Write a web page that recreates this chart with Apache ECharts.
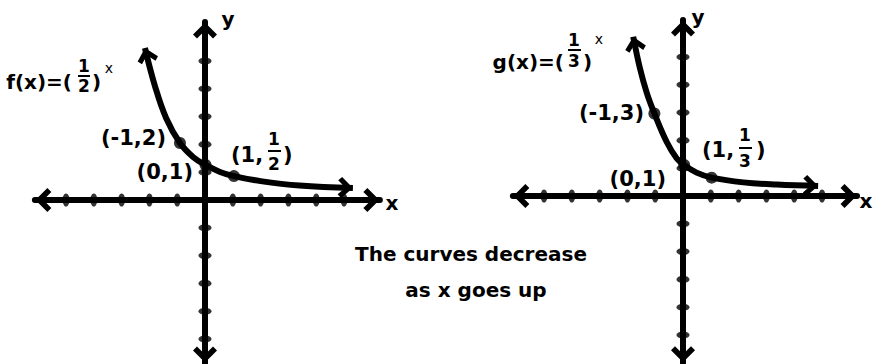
<!DOCTYPE html>
<html><head><meta charset="utf-8">
<script src="https://cdn.jsdelivr.net/npm/echarts@6/dist/echarts.min.js"></script>
<style>html,body{margin:0;padding:0;background:#fff}#c{width:874px;height:364px}</style>
</head><body><div id="c"></div>
<script>
// ---------- data ----------
const xTicks = [-5, -4, -3, -2, -1, 1, 2, 3, 4, 5];
const yTicks = [-5, -4, -3, -2, -1, 1, 2, 3, 4, 5];

// f(x) = (1/2)^x, hand-drawn curve
const fCurveX = [-2.16, -1.8, -1.4, -0.90, -0.43, 0.02, 0.54, 1.04, 2.0, 3.4, 5.32];
const fCurveY = [5.47, 4.1, 2.95, 2.05, 1.55, 1.26, 1.01, 0.86, 0.68, 0.52, 0.43];
const fPointX = [-0.90, 0.02, 1.04];
const fPointY = [2.05, 1.26, 0.86];

// g(x) = (1/3)^x
const gCurveX = [-1.79, -1.55, -1.3, -1.03, -0.59, -0.23, 0.04, 0.49, 1.03, 2.17, 3.37, 4.86];
const gCurveY = [5.73, 4.6, 3.7, 2.97, 1.95, 1.36, 1.12, 0.84, 0.66, 0.49, 0.41, 0.36];
const gPointX = [-1.03, 0.04, 1.03];
const gPointY = [2.97, 1.12, 0.66];

// axis extents (arrow tips)
const fAxisX = [-6.12, 6.29], fAxisY = [-5.86, 6.4];
const gAxisX = [-6.12, 6.26], gAxisY = [-6.0, 6.33];

// ---------- layout ----------
const UNIT = 27.8;
const fOrigin = [205, 200], gOrigin = [683, 196];
const FONT = '"DejaVu Sans"';
const CHEV = 'path://M12 0 L24 12 L20 16 L12 8 L4 16 L0 12 Z';

function gridFor(o, ax, ay) {
  return {
    left: o[0] + ax[0] * UNIT, width: (ax[1] - ax[0]) * UNIT,
    top: o[1] - ay[1] * UNIT, height: (ay[1] - ay[0]) * UNIT,
    containLabel: false, outerBoundsMode: 'none', show: false
  };
}
function axisCfg(idx, range) {
  return {
    type: 'value', gridIndex: idx, min: range[0], max: range[1],
    axisLine: { show: true, onZero: true, symbol: [CHEV, CHEV], symbolSize: [24, 17],
      symbolOffset: [8.5, -8.5], lineStyle: { color: '#000', width: 6 } },
    axisTick: { show: false }, axisLabel: { show: false }, splitLine: { show: false }
  };
}
function arrowItem(x, y, px, py, size) {
  const r = Math.atan2(-(x - px), (y - py));
  const h = size[1];
  return { value: [x, y], symbol: CHEV, symbolSize: size,
    symbolRotate: r * 180 / Math.PI,
    symbolOffset: [h / 2 * Math.sin(r), h / 2 * Math.cos(r)] };
}
function curveData(xs, ys) {
  const n = xs.length, size = [21, 15];
  return xs.map((x, i) => {
    if (i === 0) return arrowItem(x, ys[0], xs[1], ys[1], size);
    if (i === n - 1) return arrowItem(x, ys[i], xs[i - 1], ys[i - 1], size);
    return { value: [x, ys[i]], symbol: 'none' };
  });
}
function seriesFor(idx, cx, cy, px, py) {
  return [
    { type: 'line', xAxisIndex: idx, yAxisIndex: idx, data: curveData(cx, cy),
      smooth: 0.4, showAllSymbol: true, z: 3,
      lineStyle: { color: '#000', width: 6 }, itemStyle: { color: '#000' },
      silent: true, animation: false },
    { type: 'scatter', xAxisIndex: idx, yAxisIndex: idx, data: px.map((v, i) => [v, py[i]]),
      symbol: 'circle', symbolSize: 12, itemStyle: { color: '#000' }, z: 4, silent: true, animation: false },
    { type: 'scatter', xAxisIndex: idx, yAxisIndex: idx, data: xTicks.map(v => [v, 0]),
      symbol: 'circle', symbolSize: [7, 13], itemStyle: { color: '#000' }, z: 2, silent: true, animation: false },
    { type: 'scatter', xAxisIndex: idx, yAxisIndex: idx, data: yTicks.map(v => [0, v]),
      symbol: 'circle', symbolSize: [13, 7], itemStyle: { color: '#000' }, z: 2, silent: true, animation: false }
  ];
}
function txt(s, x, y, size, align, weight) {
  return { type: 'text', x: x, y: y, silent: true, z: 10,
    style: { text: s, fill: '#000', font: (weight || 'bold') + ' ' + size + 'px ' + FONT,
      textAlign: align || 'left', textVerticalAlign: 'middle' } };
}
function bar(x1, x2, y) {
  return { type: 'rect', silent: true, z: 10, shape: { x: x1, y: y - 1, width: x2 - x1, height: 2 }, style: { fill: '#000' } };
}

const chart = echarts.init(document.getElementById('c'), null, { renderer: 'svg' });
chart.setOption({
  animation: false,
  backgroundColor: '#fff',
  grid: [gridFor(fOrigin, fAxisX, fAxisY), gridFor(gOrigin, gAxisX, gAxisY)],
  xAxis: [axisCfg(0, fAxisX), axisCfg(1, gAxisX)],
  yAxis: [axisCfg(0, fAxisY), axisCfg(1, gAxisY)],
  series: seriesFor(0, fCurveX, fCurveY, fPointX, fPointY)
    .concat(seriesFor(1, gCurveX, gCurveY, gPointX, gPointY)),
  graphic: [
    // axis names
    txt('y', 228, 19, 20, 'center'), txt('x', 392, 203, 20, 'center'),
    txt('y', 698, 17, 20, 'center'), txt('x', 866, 201, 20, 'center'),
    // f(x) formula
    txt('f(x)=(', 72, 82, 20, 'right'), txt('1', 84, 66, 17, 'center'), bar(78, 90, 76),
    txt('2', 84, 86, 17, 'center'), txt(')', 92, 82, 20, 'left'), txt('x', 109, 68, 14, 'center', 'normal'),
    // f labels
    txt('(-1,2)', 166, 138, 21, 'right'), txt('(0,1)', 193, 172, 21, 'right'),
    txt('(1,', 231, 155, 21, 'left'), txt('1', 274, 139, 17, 'center'), bar(268, 281, 151),
    txt('2', 274, 164, 17, 'center'), txt(')', 283, 155, 21, 'left'),
    // g(x) formula
    txt('g(x)=(', 564, 62, 20, 'right'), txt('1', 574, 40, 17, 'center'), bar(568, 581, 50),
    txt('3', 574, 61, 17, 'center'), txt(')', 583, 62, 20, 'left'), txt('x', 599, 39, 14, 'center', 'normal'),
    // g labels
    txt('(-1,3)', 644, 113, 21, 'right'), txt('(0,1)', 666, 179, 21, 'right'),
    txt('(1,', 702, 150, 21, 'left'), txt('1', 745, 135, 17, 'center'), bar(739, 752, 148),
    txt('3', 745, 161, 17, 'center'), txt(')', 756, 150, 21, 'left'),
    // middle text
    txt('The curves decrease', 471, 254, 20, 'center'),
    txt('as x goes up', 476, 290, 20, 'center')
  ]
});
</script></body></html>
